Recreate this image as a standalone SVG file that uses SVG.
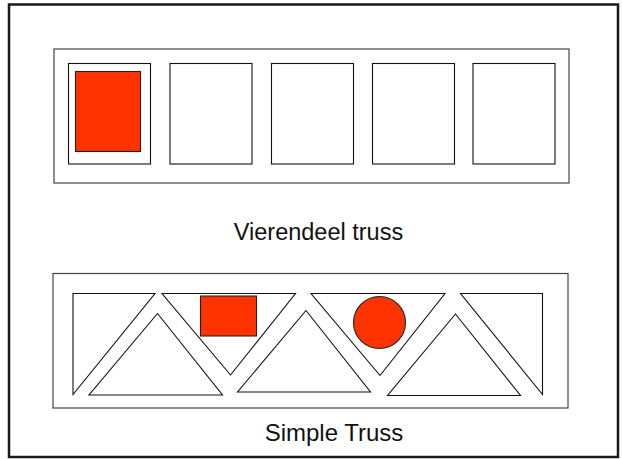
<svg xmlns="http://www.w3.org/2000/svg" width="622" height="459" viewBox="0 0 622 459">
<style>
.frame{fill:#fff;stroke:#1a1a1a;stroke-width:2.5}
.outer{fill:#fff;stroke:#444;stroke-width:1.2}
.panel{fill:#fff;stroke:#111;stroke-width:1.1}
.red{fill:#ff3300;stroke:#222;stroke-width:1.1}
.lbl{font-family:"Liberation Sans",Arial,sans-serif;fill:#111;text-anchor:middle}
</style>
<rect class="frame" x="9" y="4.5" width="609" height="452.5"/>
<g id="vierendeel">
<rect class="outer" x="54" y="49" width="515" height="134"/>
<rect class="panel" x="68.5" y="63.5" width="82" height="100.5"/>
<rect class="panel" x="170" y="63.5" width="82" height="100.5"/>
<rect class="panel" x="271.5" y="63.5" width="82" height="100.5"/>
<rect class="panel" x="372.5" y="63.5" width="82" height="100.5"/>
<rect class="panel" x="473" y="63.5" width="82" height="100.5"/>
<rect class="red" x="75.5" y="71.5" width="65" height="80"/>
</g>
<text id="label-vierendeel" class="lbl" x="318.5" y="239.5" font-size="23.5">Vierendeel truss</text>
<g id="simple-truss">
<rect class="outer" x="53" y="273.5" width="515" height="134.5"/>
<polygon class="panel" points="73,293.5 155,293.5 73,394.5"/>
<polygon class="panel" points="157.5,313.5 89,395 222.5,395"/>
<polygon class="panel" points="162,293.5 295.5,293.5 230.5,375"/>
<polygon class="panel" points="306,310.5 237.5,392 370.5,392"/>
<polygon class="panel" points="311,293.5 445,293.5 380,375.5"/>
<polygon class="panel" points="455.5,314 387.5,395.5 520.5,395.5"/>
<polygon class="panel" points="460.5,293.5 542.5,293.5 542.5,394.5"/>
<rect class="red" x="200.5" y="296" width="56" height="40"/>
<circle class="red" cx="379.5" cy="322.5" r="26"/>
</g>
<text id="label-simple" class="lbl" x="334" y="441" font-size="24">Simple Truss</text>
</svg>
